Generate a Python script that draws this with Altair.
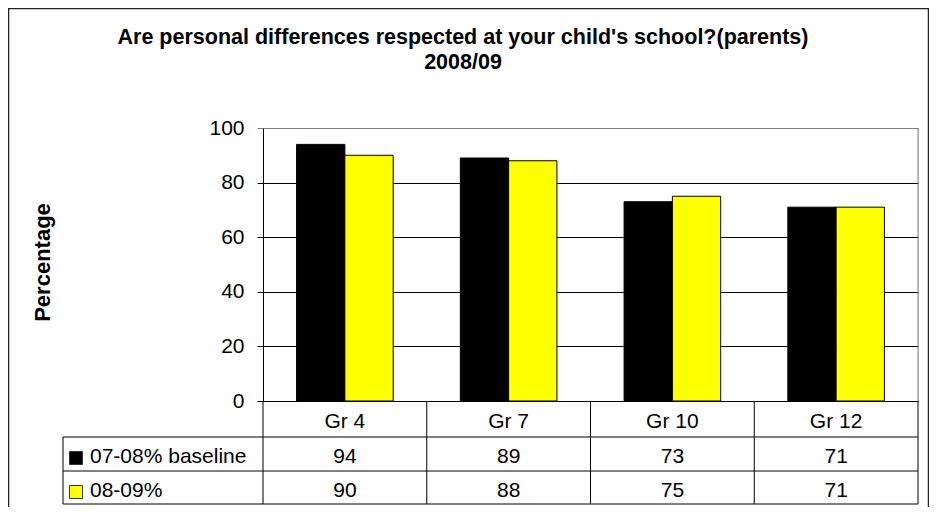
import altair as alt
import pandas as pd

title_lines = ["Are personal differences respected at your child's school?(parents)", "2008/09"]
categories = ["Gr 4", "Gr 7", "Gr 10", "Gr 12"]
series_names = ["07-08% baseline", "08-09%"]
baseline_vals = [94, 89, 73, 71]
current_vals = [90, 88, 75, 71]
y_ticks = [0, 20, 40, 60, 80, 100]
colors = ["#000000", "#FFFF00"]
y_title = "Percentage"

rows = []
for s, vals in zip(series_names, [baseline_vals, current_vals]):
    for c, v in zip(categories, vals):
        rows.append({"category": c, "series": s, "value": v})
df = pd.DataFrame(rows)
one = pd.DataFrame({"k": [0]})

W, H = 655, 273
FONT = "Liberation Sans"
FS = 21

def xenc(**kw):
    return alt.X(
        "category:N", sort=categories,
        scale=alt.Scale(paddingInner=0, paddingOuter=0),
        axis=alt.Axis(title=None, ticks=False, labelFontSize=FS, labelColor="black",
                      labelPadding=26, labelBaseline="alphabetic", labelAngle=0,
                      domainColor="black", domainWidth=1, grid=False, labelFont=FONT),
        **kw,
    )

color_enc = alt.Color("series:N", sort=series_names,
                      scale=alt.Scale(domain=series_names, range=colors), legend=None)

bars = alt.Chart(df).mark_bar(stroke="black", strokeWidth=1).encode(
    x=xenc(),
    xOffset=alt.XOffset("series:N", sort=series_names,
                        scale=alt.Scale(paddingInner=0, paddingOuter=0.695)),
    y=alt.Y("value:Q", scale=alt.Scale(domain=[0, 100]),
            axis=alt.Axis(values=y_ticks, title=y_title, grid=True,
                          gridColor={"condition": {"test": "datum.value === 100", "value": "#808080"}, "value": "black"},
                          tickColor={"condition": {"test": "datum.value === 100", "value": "#808080"}, "value": "black"},
                          gridWidth=1, tickSize=6, labelFontSize=FS, labelColor="black",
                          labelPadding=13, labelFont=FONT, domainColor="black",
                          titleFontSize=22, titleFontWeight="bold", titleFont=FONT, titleColor="black",
                          titleX=-221, titleY=134, titleAngle=270, titleAlign="center",
                          titleBaseline="middle")),
    color=color_enc,
)

layers = [bars]

# plot right border
layers.append(alt.Chart(one).mark_rule(color="#808080", strokeWidth=1).encode(
    x=alt.value(W), y=alt.value(0), y2=alt.value(H)))
# table right edge
layers.append(alt.Chart(one).mark_rule(color="black", strokeWidth=1).encode(
    x=alt.value(W), y=alt.value(H), y2=alt.value(376)))
# column separators in table
layers.append(alt.Chart(pd.DataFrame({"category": categories})).mark_rule(color="black", strokeWidth=1).encode(
    x=xenc(bandPosition=0), y=alt.value(H), y2=alt.value(376)))
# left edge of row-label column
layers.append(alt.Chart(one).mark_rule(color="black", strokeWidth=1).encode(
    x=alt.value(-200), y=alt.value(309), y2=alt.value(376)))
# horizontal table lines
for yy in [309, 343, 376]:
    layers.append(alt.Chart(one).mark_rule(color="black", strokeWidth=1).encode(
        x=alt.value(-200), x2=alt.value(W), y=alt.value(yy)))

row_base = [335, 369]
row_sq = [330, 364]
for i, s in enumerate(series_names):
    layers.append(alt.Chart(df).transform_filter(alt.datum.series == s).mark_text(
        fontSize=FS, font=FONT, baseline="alphabetic", color="black").encode(
        x=xenc(), y=alt.value(row_base[i]), text="value:Q"))
    sdf = pd.DataFrame({"series": [s]})
    layers.append(alt.Chart(sdf).mark_text(
        fontSize=FS, font=FONT, baseline="alphabetic", align="left", color="black").encode(
        x=alt.value(-173), y=alt.value(row_base[i]), text="series:N"))
    layers.append(alt.Chart(sdf).mark_square(size=169, stroke="#333333", strokeWidth=1, opacity=1).encode(
        x=alt.value(-187), y=alt.value(row_sq[i]), color=color_enc))

# title lines
for yy, t in zip([-84, -59], title_lines):
    layers.append(alt.Chart(pd.DataFrame({"t": [t]})).mark_text(
        fontSize=21.5, font=FONT, fontWeight="bold", baseline="alphabetic", align="center", color="black").encode(
        x=alt.value(200), y=alt.value(yy), text="t:N"))

# outer chart border
layers.append(alt.Chart(one).mark_rect(fillOpacity=0, stroke="#222222", strokeWidth=1.5).encode(
    x=alt.value(-254.5), x2=alt.value(665.5), y=alt.value(-119.5), y2=alt.value(420)))

chart = alt.layer(*layers).properties(
    width=W, height=H,
    autosize=alt.AutoSizeParams(type="none"),
    padding={"left": 255, "top": 120, "right": 11, "bottom": 106},
    background="white",
).configure_view(strokeWidth=0).configure(font=FONT)

chart.save("out.html", embed_options={"renderer": "svg", "actions": False})
